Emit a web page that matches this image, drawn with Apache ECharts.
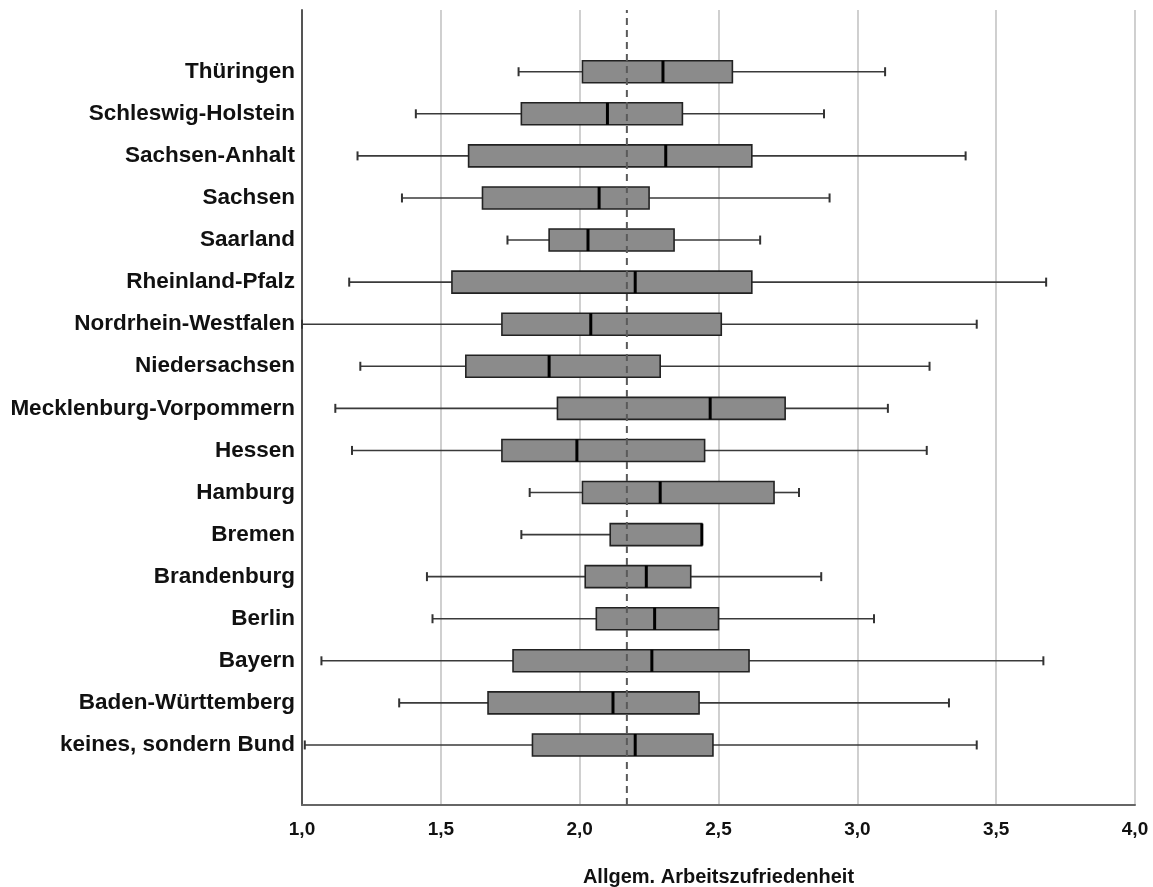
<!DOCTYPE html>
<html>
<head>
<meta charset="utf-8">
<script src="https://cdn.jsdelivr.net/npm/echarts@6/dist/echarts.min.js"></script>
<style>
html,body{margin:0;padding:0;background:#fff;}
#chart{width:1153px;height:887px;}
</style>
</head>
<body>
<div id="chart"></div>
<script>
// Categories, top to bottom
const categories = [
  'Thüringen', 'Schleswig-Holstein', 'Sachsen-Anhalt', 'Sachsen', 'Saarland',
  'Rheinland-Pfalz', 'Nordrhein-Westfalen', 'Niedersachsen', 'Mecklenburg-Vorpommern',
  'Hessen', 'Hamburg', 'Bremen', 'Brandenburg', 'Berlin', 'Bayern',
  'Baden-Württemberg', 'keines, sondern Bund'
];
const mins    = [1.78, 1.41, 1.20, 1.36, 1.74, 1.17, 1.00, 1.21, 1.12, 1.18, 1.82, 1.79, 1.45, 1.47, 1.07, 1.35, 1.01];
const q1s     = [2.01, 1.79, 1.60, 1.65, 1.89, 1.54, 1.72, 1.59, 1.92, 1.72, 2.01, 2.11, 2.02, 2.06, 1.76, 1.67, 1.83];
const medians = [2.30, 2.10, 2.31, 2.07, 2.03, 2.20, 2.04, 1.89, 2.47, 1.99, 2.29, 2.44, 2.24, 2.27, 2.26, 2.12, 2.20];
const q3s     = [2.55, 2.37, 2.62, 2.25, 2.34, 2.62, 2.51, 2.29, 2.74, 2.45, 2.70, 2.44, 2.40, 2.50, 2.61, 2.43, 2.48];
const maxs    = [3.10, 2.88, 3.39, 2.90, 2.65, 3.68, 3.43, 3.26, 3.11, 3.25, 2.79, 2.44, 2.87, 3.06, 3.67, 3.33, 3.43];
const referenceValue = 2.17;
const xTicks = { min: 1.0, max: 4.0, interval: 0.5 };
const xTitle = 'Allgem. Arbeitszufriedenheit';

const boxData = categories.map((c, i) => [i, mins[i], q1s[i], medians[i], q3s[i], maxs[i]]);

function renderBox(params, api) {
  const cat = api.value(0);
  const lo = api.coord([api.value(1), cat]);
  const q1 = api.coord([api.value(2), cat]);
  const md = api.coord([api.value(3), cat]);
  const q3 = api.coord([api.value(4), cat]);
  const hi = api.coord([api.value(5), cat]);
  const y = lo[1];
  const boxH = 22, capH = 9;
  const wStyle = { stroke: '#3a3a3a', lineWidth: 1.6 };
  return {
    type: 'group',
    children: [
      { type: 'line', shape: { x1: lo[0], y1: y, x2: q1[0], y2: y }, style: wStyle },
      { type: 'line', shape: { x1: q3[0], y1: y, x2: hi[0], y2: y }, style: wStyle },
      { type: 'line', shape: { x1: lo[0], y1: y - capH / 2, x2: lo[0], y2: y + capH / 2 }, style: { stroke: '#333', lineWidth: 2 } },
      { type: 'line', shape: { x1: hi[0], y1: y - capH / 2, x2: hi[0], y2: y + capH / 2 }, style: { stroke: '#333', lineWidth: 2 } },
      { type: 'rect', shape: { x: q1[0], y: y - boxH / 2, width: q3[0] - q1[0], height: boxH },
        style: { fill: '#8b8b8b', stroke: '#222', lineWidth: 1.6 } },
      { type: 'line', shape: { x1: md[0], y1: y - boxH / 2, x2: md[0], y2: y + boxH / 2 },
        style: { stroke: '#000', lineWidth: 3 } }
    ]
  };
}

const chart = echarts.init(document.getElementById('chart'), null, { renderer: 'canvas' });
const fontFam = '"Liberation Sans", Arial, sans-serif';
chart.setOption({
  backgroundColor: '#fff',
  animation: false,
  grid: [
    { left: 302, right: 18, top: 10, bottom: 82, outerBoundsMode: 'none', containLabel: false },
    { left: 302, right: 18, top: 50.7, bottom: 121, outerBoundsMode: 'none', containLabel: false }
  ],
  xAxis: [
    {
      gridIndex: 0, type: 'value', min: xTicks.min, max: xTicks.max, interval: xTicks.interval,
      axisLine: { show: true, onZero: false, lineStyle: { color: '#666', width: 2 } },
      axisTick: { show: false },
      axisLabel: {
        margin: 15, color: '#111', fontSize: 19, fontWeight: 'bold', fontFamily: fontFam,
        formatter: v => v.toFixed(1).replace('.', ',')
      },
      splitLine: { show: true, lineStyle: { color: '#c4c4c4', width: 1.6 } },
      name: xTitle, nameLocation: 'middle', nameGap: 62,
      nameTextStyle: { color: '#111', fontSize: 20, fontWeight: 'bold', fontFamily: fontFam }
    },
    {
      gridIndex: 1, type: 'value', min: xTicks.min, max: xTicks.max, interval: xTicks.interval,
      show: false
    }
  ],
  yAxis: [
    {
      gridIndex: 0, type: 'value', min: 0, max: 1,
      axisLine: { show: true, lineStyle: { color: '#555', width: 2 } },
      axisTick: { show: false }, axisLabel: { show: false }, splitLine: { show: false }
    },
    {
      gridIndex: 1, type: 'category', data: categories, inverse: true,
      axisLine: { show: false }, axisTick: { show: false }, splitLine: { show: false },
      axisLabel: { margin: 7, color: '#111', fontSize: 22.5, fontWeight: 'bold', fontFamily: fontFam }
    }
  ],
  series: [
    {
      type: 'custom', xAxisIndex: 1, yAxisIndex: 1,
      renderItem: renderBox,
      encode: { x: [1, 2, 3, 4, 5], y: 0 },
      data: boxData, z: 2
    },
    {
      type: 'line', xAxisIndex: 0, yAxisIndex: 0,
      data: [[referenceValue, 0], [referenceValue, 1]],
      symbol: 'none', silent: true, z: 5,
      lineStyle: { color: '#5a5a5a', width: 2, type: [7, 5] }
    }
  ]
});
</script>
</body>
</html>
